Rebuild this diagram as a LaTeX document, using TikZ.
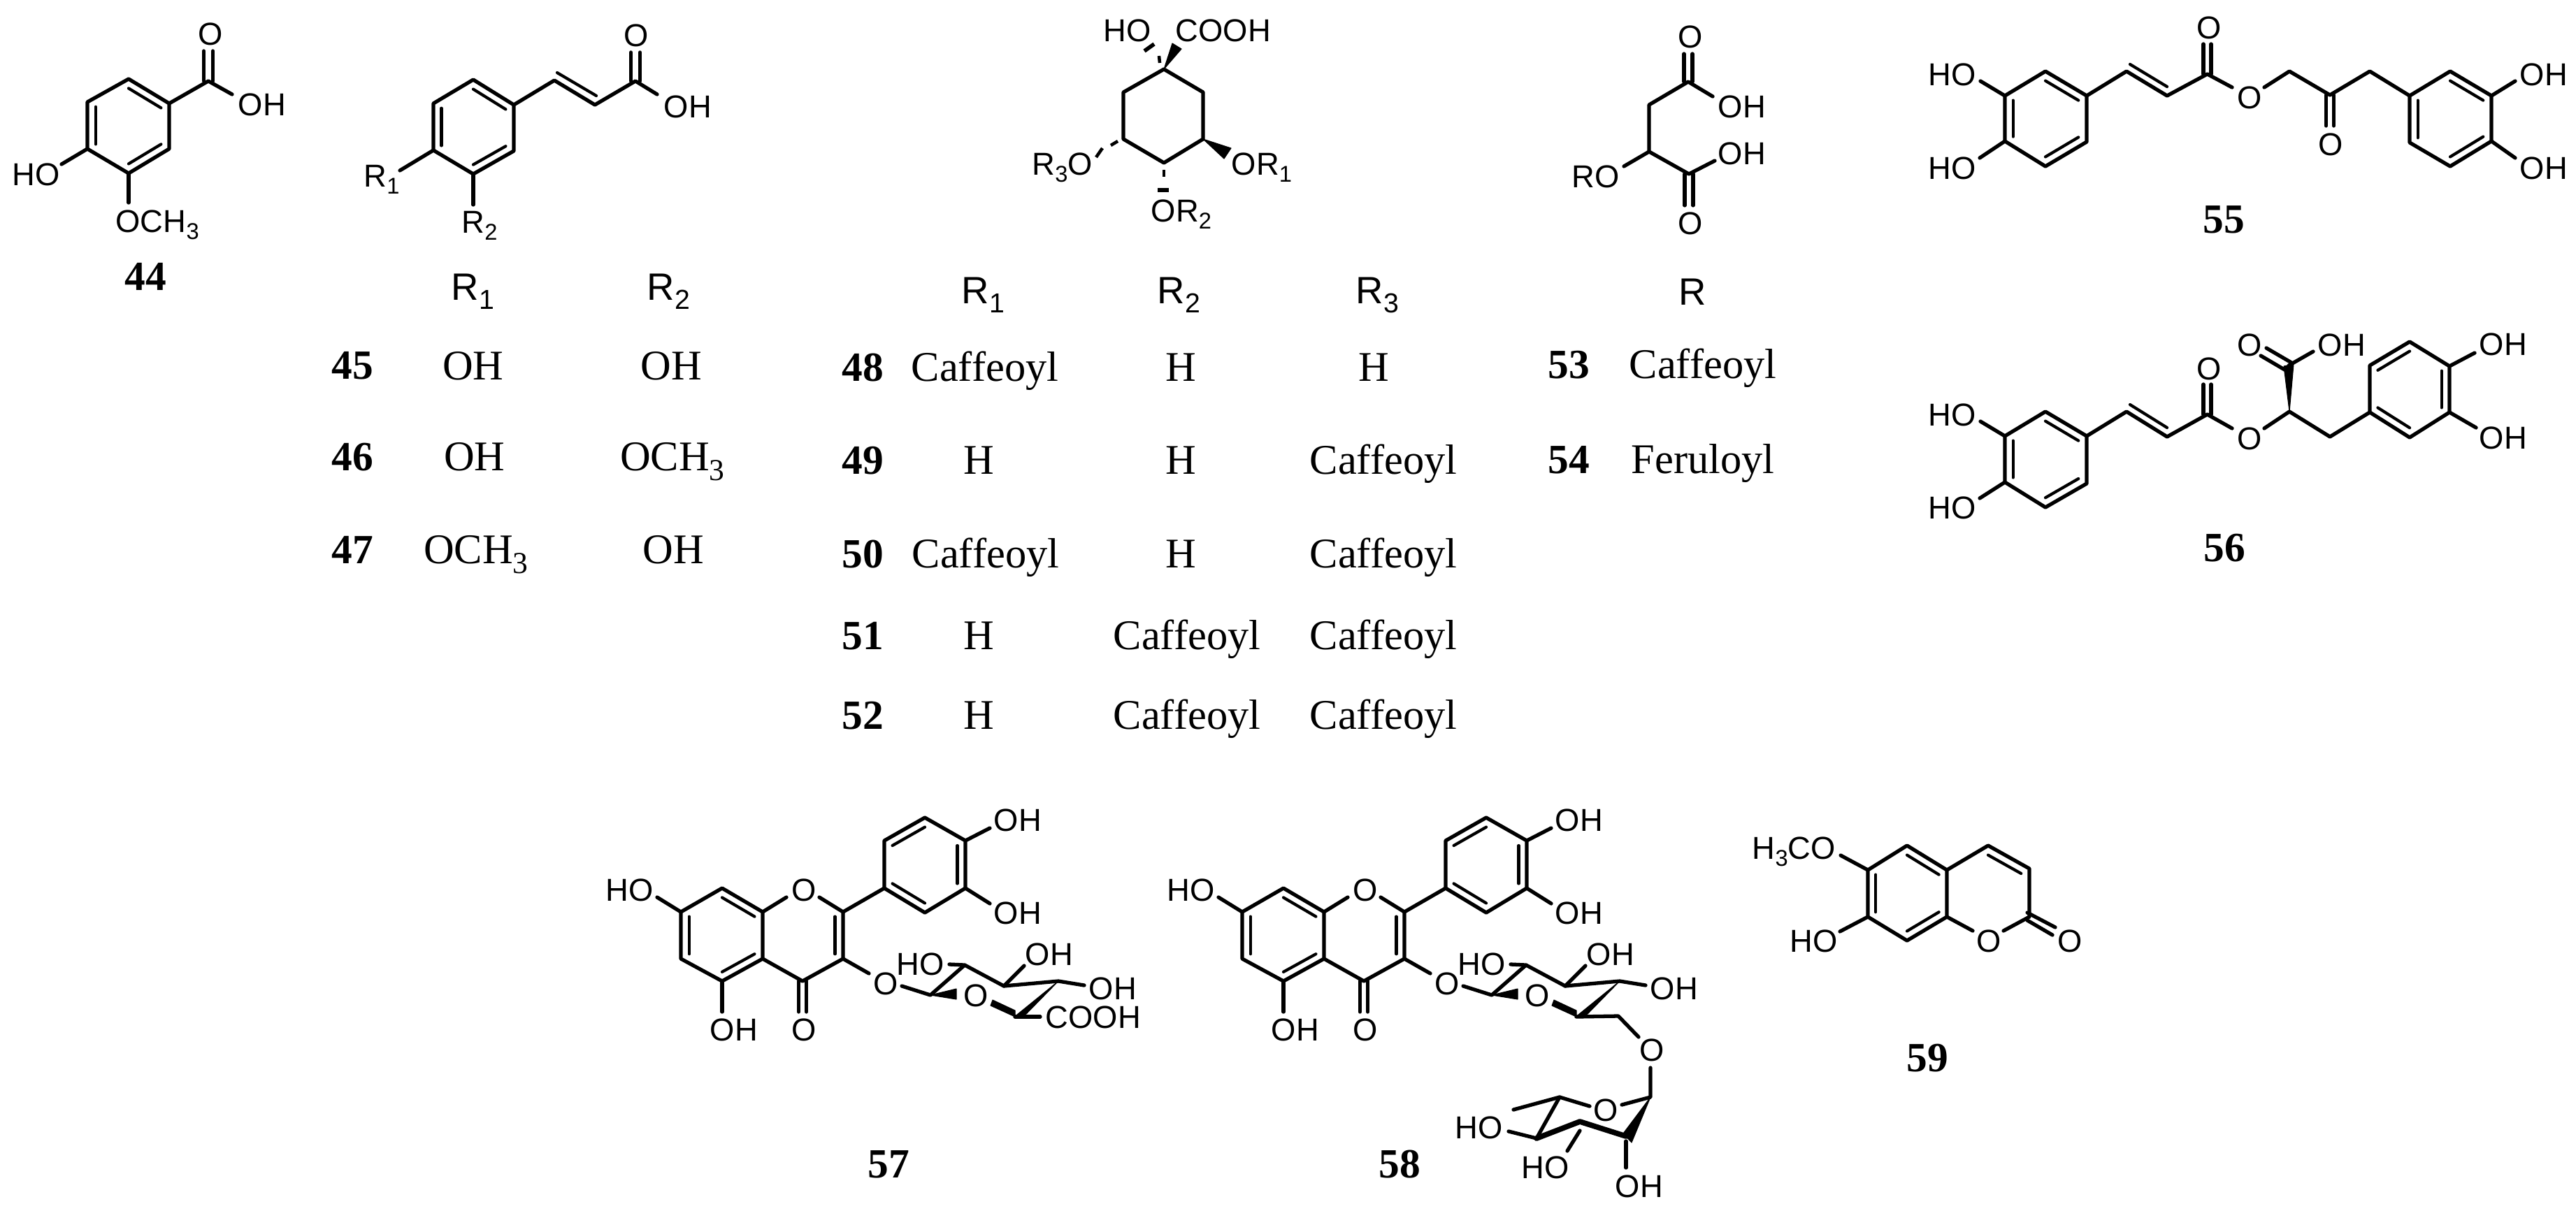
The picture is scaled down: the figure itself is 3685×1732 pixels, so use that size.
\documentclass[tikz,border=0pt]{standalone}
\usepackage{fontspec}
\setmainfont{Liberation Serif}
\setsansfont{Liberation Sans}
\usetikzlibrary{calc}
\tikzset{
bond/.style={line width=1.5pt,line cap=round,line join=round},
innerbond/.style={line width=1.2pt,line cap=round},
hashbond/.style={line width=1.3pt},
wedgebond/.style={fill=black,draw=black,line width=.3pt,line join=round},
atomlabel/.style={font=\fontsize{12.9}{14}\selectfont\sffamily,inner sep=0pt,anchor=base west},
headlabel/.style={font=\fontsize{15.5}{18}\selectfont\sffamily,inner sep=0pt,anchor=base west},
tablelabel/.style={font=\fontsize{17.2}{19}\selectfont,inner sep=0pt,anchor=base},
cpdlabel/.style={font=\fontsize{16.9}{19}\selectfont\bfseries,inner sep=0pt,anchor=base west}
}
\newcommand{\subdig}[1]{\raisebox{-.24em}{\scalebox{.72}{#1}}}
\newcommand{\ringbond}[3]{\draw[innerbond] ($(#1)!.2!(#3)$) -- ($(#2)!.2!(#3)$);}
\newcommand{\dblbond}[4]{\draw[bond] ($(#1)+(#3)$) -- ($(#2)+(#3)$); \draw[bond] ($(#1)+(#4)$) -- ($(#2)+(#4)$);}
\begin{document}
\begin{tikzpicture}[x=.01cm,y=-.01cm]
\useasboundingbox (0,0) rectangle (3685,1732);
% 44
\path (184,113) coordinate (v1) (242,148) coordinate (v2) (242,213) coordinate (v3) (184,248) coordinate (v4) (125,213) coordinate (v5) (125,146) coordinate (v6) (184,180) coordinate (vc);
\path (298,116) coordinate (v7) (298,73) coordinate (v8) (332,135) coordinate (v9) (88,235) coordinate (v10) (184,290) coordinate (v11);
\draw[bond] (v1)--(v2)--(v3)--(v4)--(v5)--(v6)--cycle;
\ringbond{v1}{v2}{vc} \ringbond{v3}{v4}{vc} \ringbond{v5}{v6}{vc}
\draw[bond] (v2)--(v7)--(v9);
\dblbond{v7}{v8}{-6.5,0}{6.5,0}
\draw[bond] (v5)--(v10);
\draw[bond] (v4)--(v11);
\node[atomlabel] (vO) at (283,64) {O};
\node[atomlabel] (vOH) at (340,165) {OH};
\node[atomlabel] (vHO) at (17,265) {HO};
\node[atomlabel] (vOMe) at (165,332) {OCH\subdig{3}};
\node[cpdlabel] (n44) at (178,415) {44};
% 45-47
\path (677,114) coordinate (c1) (735,150) coordinate (c2) (735,216) coordinate (c3) (677,249) coordinate (c4) (620,215) coordinate (c5) (620,148) coordinate (c6) (677,182) coordinate (cc);
\path (793,115) coordinate (c7) (851,150) coordinate (c8) (909,116) coordinate (c9) (909,75) coordinate (c10) (940,135) coordinate (c11) (572,244) coordinate (c12) (677,293) coordinate (c13) (797,104) coordinate (c7b) (853,137) coordinate (c8b);
\draw[bond] (c1)--(c2)--(c3)--(c4)--(c5)--(c6)--cycle;
\ringbond{c1}{c2}{cc} \ringbond{c3}{c4}{cc} \ringbond{c5}{c6}{cc}
\draw[bond] (c2)--(c7)--(c8)--(c9)--(c11);
\draw[innerbond] (c7b)--(c8b);
\dblbond{c9}{c10}{-6.5,0}{6.5,0}
\draw[bond] (c5)--(c12);
\draw[bond] (c4)--(c13);
\node[atomlabel] (cO) at (892,66) {O};
\node[atomlabel] (cOH) at (949,168) {OH};
\node[atomlabel] (cR1) at (520,267) {R\subdig{1}};
\node[atomlabel] (cR2) at (660,333) {R\subdig{2}};
\node[headlabel] (h1) at (645,429) {R\subdig{1}};
\node[headlabel] (h2) at (925,429) {R\subdig{2}};
\node[cpdlabel] (n45) at (474,542) {45};
\node[tablelabel] (t45a) at (677,543) {OH};
\node[tablelabel] (t45b) at (960,543) {OH};
\node[cpdlabel] (n46) at (474,673) {46};
\node[tablelabel] (t46a) at (679,673) {OH};
\node[tablelabel] (t46b) at (962,673) {OCH\subdig{3}};
\node[cpdlabel] (n47) at (474,806) {47};
\node[tablelabel] (t47a) at (681,806) {OCH\subdig{3}};
\node[tablelabel] (t47b) at (963,806) {OH};
% 48-52
\path (1665,99) coordinate (q1) (1721,132) coordinate (q2) (1721,199) coordinate (q3) (1665,233) coordinate (q4) (1607,199) coordinate (q5) (1607,132) coordinate (q6);
\path (1677,62) coordinate (q7) (1690,70) coordinate (q8) (1761,212) coordinate (q9) (1751,227) coordinate (q10);
\draw[bond] (q1)--(q2)--(q3)--(q4)--(q5)--(q6)--cycle;
\fill[wedgebond] (q1)--(q7)--(q8)--cycle;
\fill[wedgebond] (q3)--(q9)--(q10)--cycle;
\draw[hashbond] (1658,80)--(1659,90);
\draw[hashbond,line width=1.6pt] (1637,73)--(1651,63);
\draw[hashbond] (1599,202)--(1589,208);
\draw[hashbond] (1577,212)--(1568,225);
\draw[hashbond] (1665,243)--(1665,253);
\draw[hashbond,line width=1.7pt] (1656,272)--(1672,272);
\node[atomlabel] (qHO) at (1578,59) {HO};
\node[atomlabel] (qCOOH) at (1681,59) {COOH};
\node[atomlabel] (qOR1) at (1761,250) {OR\subdig{1}};
\node[atomlabel] (qR3O) at (1476,250) {R\subdig{3}O};
\node[atomlabel] (qOR2) at (1646,317) {OR\subdig{2}};
\node[headlabel] (h3) at (1375,434) {R\subdig{1}};
\node[headlabel] (h4) at (1655,434) {R\subdig{2}};
\node[headlabel] (h5) at (1939,434) {R\subdig{3}};
\node[cpdlabel] (n48) at (1204,545) {48};
\node[tablelabel] (t48a) at (1409,545) {Caffeoyl};
\node[tablelabel] (t48b) at (1689,545) {H};
\node[tablelabel] (t48c) at (1965,545) {H};
\node[cpdlabel] (n49) at (1204,678) {49};
\node[tablelabel] (t49a) at (1400,678) {H};
\node[tablelabel] (t49b) at (1689,678) {H};
\node[tablelabel] (t49c) at (1979,678) {Caffeoyl};
\node[cpdlabel] (n50) at (1204,812) {50};
\node[tablelabel] (t50a) at (1410,812) {Caffeoyl};
\node[tablelabel] (t50b) at (1689,812) {H};
\node[tablelabel] (t50c) at (1979,812) {Caffeoyl};
\node[cpdlabel] (n51) at (1204,929) {51};
\node[tablelabel] (t51a) at (1400,929) {H};
\node[tablelabel] (t51b) at (1698,929) {Caffeoyl};
\node[tablelabel] (t51c) at (1979,929) {Caffeoyl};
\node[cpdlabel] (n52) at (1204,1043) {52};
\node[tablelabel] (t52a) at (1400,1043) {H};
\node[tablelabel] (t52b) at (1698,1043) {Caffeoyl};
\node[tablelabel] (t52c) at (1979,1043) {Caffeoyl};
% 53-54
\path (2415,117) coordinate (m1) (2359,150) coordinate (m2) (2359,217) coordinate (m3) (2416,249) coordinate (m4) (2415,77) coordinate (m5) (2416,294) coordinate (m6) (2450,138) coordinate (m7) (2453,230) coordinate (m8) (2323,238) coordinate (m9);
\draw[bond] (m7)--(m1)--(m2)--(m3)--(m4)--(m8);
\draw[bond] (m3)--(m9);
\dblbond{m1}{m5}{-6,0}{6,0}
\dblbond{m4}{m6}{-6,0}{6,0}
\node[atomlabel] (mO1) at (2400,68) {O};
\node[atomlabel] (mOH1) at (2457,168) {OH};
\node[atomlabel] (mOH2) at (2457,235) {OH};
\node[atomlabel] (mO2) at (2400,335) {O};
\node[atomlabel] (mRO) at (2248,268) {RO};
\node[headlabel] (h6) at (2401,436) {R};
\node[cpdlabel] (n53) at (2214,541) {53};
\node[tablelabel] (t53) at (2436,541) {Caffeoyl};
\node[cpdlabel] (n54) at (2214,677) {54};
\node[tablelabel] (t54) at (2436,677) {Feruloyl};
% 55
\path (2926,102) coordinate (d1) (2985,137) coordinate (d2) (2985,203) coordinate (d3) (2926,238) coordinate (d4) (2868,202) coordinate (d5) (2868,137) coordinate (d6) (2926,170) coordinate (dc);
\path (3042,102) coordinate (d7) (3100,137) coordinate (d8) (3157.5,106) coordinate (d9) (3157.5,63) coordinate (d10) (3193,125) coordinate (d11) (3239,125) coordinate (d12) (3275,102) coordinate (d13) (3333,136) coordinate (d14) (3390,102) coordinate (d15) (3333,180) coordinate (d16) (3047,92) coordinate (d7b) (3100,124) coordinate (d8b);
\path (3505,102) coordinate (f1) (3564,137) coordinate (f2) (3564,202) coordinate (f3) (3505,238) coordinate (f4) (3447,204) coordinate (f5) (3447,137) coordinate (f6) (3505,170) coordinate (fc);
\path (2833,116) coordinate (d17) (2832,226) coordinate (d18) (3598,116) coordinate (f7) (3598,226) coordinate (f8);
\draw[bond] (d1)--(d2)--(d3)--(d4)--(d5)--(d6)--cycle;
\ringbond{d1}{d2}{dc} \ringbond{d3}{d4}{dc} \ringbond{d5}{d6}{dc}
\draw[bond] (d2)--(d7)--(d8)--(d9)--(d11);
\draw[innerbond] (d7b)--(d8b);
\dblbond{d9}{d10}{-5.5,0}{5.5,0}
\draw[bond] (d12)--(d13)--(d14)--(d15)--(f6);
\dblbond{d14}{d16}{-5.5,0}{5.5,0}
\draw[bond] (f1)--(f2)--(f3)--(f4)--(f5)--(f6)--cycle;
\ringbond{f1}{f2}{fc} \ringbond{f3}{f4}{fc} \ringbond{f5}{f6}{fc}
\draw[bond] (d6)--(d17);
\draw[bond] (d5)--(d18);
\draw[bond] (f2)--(f7);
\draw[bond] (f3)--(f8);
\node[atomlabel] (dHO1) at (2758,122) {HO};
\node[atomlabel] (dHO2) at (2758,256) {HO};
\node[atomlabel] (dO1) at (3142,55) {O};
\node[atomlabel] (dO2) at (3200,155) {O};
\node[atomlabel] (dO3) at (3316,222) {O};
\node[atomlabel] (dOH1) at (3604,122) {OH};
\node[atomlabel] (dOH2) at (3604,256) {OH};
\node[cpdlabel] (n55) at (3151,333) {55};
% 56
\path (2926,589) coordinate (e1) (2985,624) coordinate (e2) (2985,692) coordinate (e3) (2926,726) coordinate (e4) (2868,690) coordinate (e5) (2868,624) coordinate (e6) (2926,657) coordinate (ec);
\path (3042,589) coordinate (e7) (3100,625) coordinate (e8) (3157.5,593) coordinate (e9) (3157.5,550) coordinate (e10) (3193,613) coordinate (e11) (3239,613) coordinate (e12) (3275,589) coordinate (e13) (3333,625) coordinate (e14) (3047,579) coordinate (e7b) (3100,612) coordinate (e8b);
\path (3267,524) coordinate (e15) (3281,521) coordinate (e16) (3274,523) coordinate (e17) (3309,503) coordinate (e18) (3234,509) coordinate (e19) (3268,529) coordinate (e20) (3242,498) coordinate (e21) (3278,519) coordinate (e22);
\path (3390,590) coordinate (k1) (3390,523) coordinate (k2) (3447,489) coordinate (k3) (3504,524) coordinate (k4) (3504,590) coordinate (k5) (3447,626) coordinate (k6) (3447,557) coordinate (kc);
\path (2833,603) coordinate (e23) (2832,713) coordinate (e24) (3540,505) coordinate (k7) (3542,612) coordinate (k8);
\draw[bond] (e1)--(e2)--(e3)--(e4)--(e5)--(e6)--cycle;
\ringbond{e1}{e2}{ec} \ringbond{e3}{e4}{ec} \ringbond{e5}{e6}{ec}
\draw[bond] (e2)--(e7)--(e8)--(e9)--(e11);
\draw[innerbond] (e7b)--(e8b);
\dblbond{e9}{e10}{-5.5,0}{5.5,0}
\draw[bond] (e12)--(e13)--(e14)--(k1);
\fill[wedgebond] (e13)--(e15)--(e16)--cycle;
\draw[bond] (e17)--(e18);
\draw[bond] (e19)--(e20);
\draw[bond] (e21)--(e22);
\draw[bond] (k1)--(k2)--(k3)--(k4)--(k5)--(k6)--cycle;
\ringbond{k2}{k3}{kc} \ringbond{k4}{k5}{kc} \ringbond{k6}{k1}{kc}
\draw[bond] (e6)--(e23);
\draw[bond] (e5)--(e24);
\draw[bond] (k4)--(k7);
\draw[bond] (k5)--(k8);
\node[atomlabel] (eHO1) at (2758,609) {HO};
\node[atomlabel] (eHO2) at (2758,742) {HO};
\node[atomlabel] (eO1) at (3142,543) {O};
\node[atomlabel] (eO2) at (3200,643) {O};
\node[atomlabel] (eO3) at (3200,509) {O};
\node[atomlabel] (eOH1) at (3315,509) {OH};
\node[atomlabel] (eOH2) at (3546,508) {OH};
\node[atomlabel] (eOH3) at (3546,642) {OH};
\node[cpdlabel] (n56) at (3152,803) {56};
% 57 and 58 share the flavonol part
\foreach \fl/\dx in {g/0,r/803}{
\begin{scope}[shift={(\dx,0)}]
\path (974,1305) coordinate (\fl a1) (1033,1271) coordinate (\fl a2) (1091,1305) coordinate (\fl a3) (1091,1372) coordinate (\fl a4) (1033,1404) coordinate (\fl a5) (974,1372) coordinate (\fl a6) (1033,1338) coordinate (\fl ac);
\path (1125,1284) coordinate (\fl c1) (1172,1284) coordinate (\fl c2) (1206,1305) coordinate (\fl c3) (1206,1372) coordinate (\fl c4) (1148,1404) coordinate (\fl c5) (1148,1338) coordinate (\fl cc) (1148,1448) coordinate (\fl c6) (1243,1393) coordinate (\fl c7);
\path (1265,1271) coordinate (\fl b1) (1265,1203) coordinate (\fl b2) (1323,1170) coordinate (\fl b3) (1381,1203) coordinate (\fl b4) (1381,1271) coordinate (\fl b5) (1323,1306) coordinate (\fl b6) (1323,1238) coordinate (\fl bc);
\path (1416,1185) coordinate (\fl b7) (1416,1293) coordinate (\fl b8) (940,1284) coordinate (\fl a7) (1033,1448) coordinate (\fl a8);
\path (1331,1424) coordinate (\fl s1) (1380,1381) coordinate (\fl s2) (1436,1411) coordinate (\fl s3) (1514,1404) coordinate (\fl s4) (1452,1455) coordinate (\fl s5) (1290,1411) coordinate (\fl s6) (1358,1380) coordinate (\fl s7) (1465,1382) coordinate (\fl s8) (1551,1410) coordinate (\fl s9);
\path (1368,1415) coordinate (\fl w1) (1368,1430) coordinate (\fl w2) (1468,1451) coordinate (\fl w3) (1450,1456) coordinate (\fl w4) (1420,1431) coordinate (\fl w5) (1452,1446) coordinate (\fl w6) (1417,1439) coordinate (\fl w7);
\draw[bond] (\fl a1)--(\fl a2)--(\fl a3)--(\fl a4)--(\fl a5)--(\fl a6)--cycle;
\ringbond{\fl a2}{\fl a3}{\fl ac} \ringbond{\fl a4}{\fl a5}{\fl ac} \ringbond{\fl a6}{\fl a1}{\fl ac}
\draw[bond] (\fl a3)--(\fl c1);
\draw[bond] (\fl c2)--(\fl c3)--(\fl c4)--(\fl c5)--(\fl a4);
\ringbond{\fl c3}{\fl c4}{\fl cc}
\dblbond{\fl c5}{\fl c6}{-5.5,0}{5.5,0}
\draw[bond] (\fl c3)--(\fl b1);
\draw[bond] (\fl b1)--(\fl b2)--(\fl b3)--(\fl b4)--(\fl b5)--(\fl b6)--cycle;
\ringbond{\fl b2}{\fl b3}{\fl bc} \ringbond{\fl b4}{\fl b5}{\fl bc} \ringbond{\fl b6}{\fl b1}{\fl bc}
\draw[bond] (\fl b4)--(\fl b7);
\draw[bond] (\fl b5)--(\fl b8);
\draw[bond] (\fl a1)--(\fl a7);
\draw[bond] (\fl a5)--(\fl a8);
\draw[bond] (\fl c4)--(\fl c7);
\draw[bond] (\fl s6)--(\fl s1)--(\fl s2)--(\fl s3)--(\fl s4)--(\fl s9);
\draw[bond] (\fl s7)--(\fl s2);
\draw[bond] (\fl s3)--(\fl s8);
\fill[wedgebond] (\fl s1)--(\fl w1)--(\fl w2)--cycle;
\fill[wedgebond] (\fl s4)--(\fl w3)--(\fl w4)--cycle;
\fill[wedgebond] (\fl s5)--(\fl w6)--(\fl w5)--(\fl w7)--cycle;
\node[atomlabel] (\fl HO) at (866,1289) {HO};
\node[atomlabel] (\fl OH1) at (1015,1489) {OH};
\node[atomlabel] (\fl O1) at (1132,1489) {O};
\node[atomlabel] (\fl O2) at (1132,1289) {O};
\node[atomlabel] (\fl OH2) at (1421,1189) {OH};
\node[atomlabel] (\fl OH3) at (1421,1322) {OH};
\node[atomlabel] (\fl O3) at (1249,1423) {O};
\node[atomlabel] (\fl O4) at (1378,1440) {O};
\node[atomlabel] (\fl HO2) at (1282,1395) {HO};
\node[atomlabel] (\fl OH4) at (1466,1381) {OH};
\node[atomlabel] (\fl OH5) at (1557,1430) {OH};
\end{scope}
}
% 57 tail
\coordinate (g1) at (1488,1455);
\draw[bond] (gs5)--(g1);
\node[atomlabel] (gCOOH) at (1495,1471) {COOH};
\node[cpdlabel] (n57) at (1241,1685) {57};
% 58 tail
\path (2315,1454) coordinate (r1) (2344,1484) coordinate (r2) (2361,1528) coordinate (r3) (2361,1570) coordinate (r4) (2320,1581) coordinate (r5) (2274,1583) coordinate (r6) (2231,1570) coordinate (r7) (2165,1588) coordinate (r8) (2198,1629) coordinate (r9) (2260,1605) coordinate (r10) (2326,1626) coordinate (r11) (2326,1633) coordinate (r12) (2326,1671) coordinate (r13) (2260,1618) coordinate (r14) (2242,1647) coordinate (r15) (2158,1619) coordinate (r16) (2322,1622) coordinate (r17) (2334,1635) coordinate (r18);
\draw[bond] (rs5)--(r1)--(r2);
\draw[bond] (r3)--(r4)--(r5);
\draw[bond] (r6)--(r7)--(r9);
\draw[bond] (r7)--(r8);
\draw[bond,line width=2.2pt] (r9)--(r10)--(r11);
\fill[wedgebond] (r4)--(r17)--(r18)--cycle;
\draw[bond] (r12)--(r13);
\draw[bond] (r14)--(r15);
\draw[bond] (r9)--(r16);
\node[atomlabel] (rO5) at (2345,1518) {O};
\node[atomlabel] (rO6) at (2279,1604) {O};
\node[atomlabel] (rHO3) at (2081,1629) {HO};
\node[atomlabel] (rHO4) at (2176,1686) {HO};
\node[atomlabel] (rOH6) at (2310,1713) {OH};
\node[cpdlabel] (n58) at (1972,1685) {58};
% 59
\path (2672,1245) coordinate (s1) (2728,1210) coordinate (s2) (2785,1245) coordinate (s3) (2785,1312) coordinate (s4) (2728,1346) coordinate (s5) (2672,1312) coordinate (s6) (2728,1278) coordinate (sc);
\path (2844,1210) coordinate (s7) (2903,1243) coordinate (s8) (2903,1312) coordinate (s9) (2822,1332) coordinate (s10) (2866,1332) coordinate (s11) (2844,1278) coordinate (sd) (2633,1224) coordinate (s12) (2632,1333) coordinate (s13);
\path (2900,1306) coordinate (s14) (2940,1327) coordinate (s15) (2900,1317) coordinate (s16) (2936,1338) coordinate (s17);
\draw[bond] (s1)--(s2)--(s3)--(s4)--(s5)--(s6)--cycle;
\ringbond{s2}{s3}{sc} \ringbond{s4}{s5}{sc} \ringbond{s6}{s1}{sc}
\draw[bond] (s4)--(s10);
\draw[bond] (s11)--(s9)--(s8)--(s7)--(s3);
\ringbond{s7}{s8}{sd}
\draw[bond] (s14)--(s15);
\draw[bond] (s16)--(s17);
\draw[bond] (s1)--(s12);
\draw[bond] (s6)--(s13);
\node[atomlabel] (sMeO) at (2506,1229) {H\subdig{3}CO};
\node[atomlabel] (sHO) at (2560,1362) {HO};
\node[atomlabel] (sO1) at (2827,1362) {O};
\node[atomlabel] (sO2) at (2943,1362) {O};
\node[cpdlabel] (n59) at (2727,1533) {59};
\end{tikzpicture}
\end{document}
